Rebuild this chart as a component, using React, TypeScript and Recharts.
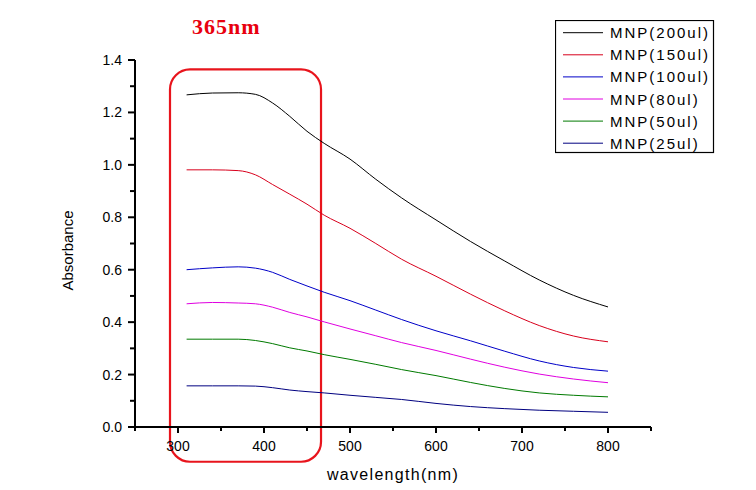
import React from 'react';
import { LineChart, Line, XAxis, YAxis, Legend, ReferenceArea } from 'recharts';

const wavelengths = [310, 340, 370, 390, 410, 430, 450, 470, 500, 530, 560, 600, 640, 680, 720, 760, 800];
const mnp200 = [1.267, 1.274, 1.275, 1.269, 1.236, 1.185, 1.128, 1.082, 1.022, 0.945, 0.874, 0.790, 0.708, 0.633, 0.561, 0.502, 0.458];
const mnp150 = [0.981, 0.981, 0.978, 0.962, 0.925, 0.888, 0.850, 0.808, 0.758, 0.700, 0.640, 0.575, 0.507, 0.443, 0.387, 0.347, 0.325];
const mnp100 = [0.600, 0.607, 0.611, 0.606, 0.590, 0.563, 0.538, 0.514, 0.482, 0.446, 0.410, 0.367, 0.329, 0.289, 0.252, 0.227, 0.213];
const mnp80 = [0.470, 0.475, 0.473, 0.470, 0.457, 0.437, 0.420, 0.401, 0.374, 0.348, 0.322, 0.292, 0.259, 0.228, 0.202, 0.183, 0.169];
const mnp50 = [0.335, 0.335, 0.335, 0.330, 0.318, 0.302, 0.290, 0.276, 0.258, 0.239, 0.219, 0.196, 0.170, 0.147, 0.130, 0.121, 0.115];
const mnp25 = [0.157, 0.157, 0.157, 0.156, 0.150, 0.141, 0.135, 0.130, 0.121, 0.113, 0.105, 0.090, 0.078, 0.070, 0.064, 0.060, 0.056];

const seriesNames = ['MNP(200ul)', 'MNP(150ul)', 'MNP(100ul)', 'MNP(80ul)', 'MNP(50ul)', 'MNP(25ul)'];
const seriesColors = ['#000000', '#d8001c', '#0000c8', '#e000e0', '#007a00', '#000080'];
const seriesValues = [mnp200, mnp150, mnp100, mnp80, mnp50, mnp25];

const xTicks = [250, 300, 350, 400, 450, 500, 550, 600, 650, 700, 750, 800, 850];
const xLabelTicks = [300, 400, 500, 600, 700, 800];
const yTicks = [0, 0.1, 0.2, 0.3, 0.4, 0.5, 0.6, 0.7, 0.8, 0.9, 1.0, 1.1, 1.2, 1.3, 1.4];
const xTitle = 'wavelength(nm)';
const yTitle = 'Absorbance';
const annotationText = '365nm';
const highlightX = [290.7, 466.3];
const highlightY = [-0.1325, 1.3645];

const data = wavelengths.map((w, i) => {
  const row: any = { wavelength: w };
  seriesValues.forEach((vals, k) => {
    row['s' + k] = vals[i];
  });
  return row;
});

const FONT = '"Liberation Sans", Arial, sans-serif';

const XTick = (props: any) => {
  const { x, y, payload } = props;
  const v = payload.value;
  const major = v % 100 === 0;
  const showLabel = xLabelTicks.includes(v);
  return (
    <g>
      <line x1={x} x2={x} y1={y} y2={y + (major ? 6 : 4)} stroke="#000" strokeWidth={2} />
      {showLabel && (
        <text x={x} y={y + 24} textAnchor="middle" fontFamily={FONT} fontSize={14} fill="#000">
          {v}
        </text>
      )}
    </g>
  );
};

const YTick = (props: any) => {
  const { x, y, payload } = props;
  const v = payload.value;
  const major = Math.round(v * 10) % 2 === 0;
  return (
    <g>
      <line x1={x - (major ? 7 : 5)} x2={x} y1={y} y2={y} stroke="#000" strokeWidth={2} />
      {major && (
        <text x={x - 13} y={y + 5} textAnchor="end" fontFamily={FONT} fontSize={14} fill="#000">
          {v.toFixed(1)}
        </text>
      )}
    </g>
  );
};

const LegendBox = (props: any) => {
  const payload = [...(props.payload || [])].sort(
    (a: any, b: any) => seriesNames.indexOf(a.value) - seriesNames.indexOf(b.value)
  );
  return (
    <svg width={160} height={134} style={{ display: 'block' }}>
      <rect x={0.5} y={0.5} width={158} height={132} fill="#fff" stroke="#000" strokeWidth={1.2} />
      {payload.map((e: any, i: number) => {
        const cy = 12.7 + i * 22.1;
        return (
          <g key={i}>
            <line x1={8} x2={48} y1={cy} y2={cy} stroke={e.color} strokeWidth={1} />
            <text x={55} y={cy + 5.5} fontFamily={FONT} fontSize={15} letterSpacing={2} fill="#000">
              {e.value}
            </text>
          </g>
        );
      })}
    </svg>
  );
};

export default function App() {
  return (
    <div style={{ position: 'absolute', left: 0, top: 0, background: '#fff' }}>
      <LineChart width={756} height={490} data={data} margin={{ top: 60, right: 105, bottom: 23, left: 65 }}>
        <XAxis
          dataKey="wavelength"
          type="number"
          domain={[250, 850]}
          ticks={xTicks}
          interval={0}
          allowDataOverflow
          height={40}
          tickSize={0}
          tickMargin={0}
          tickLine={false}
          axisLine={{ stroke: '#000', strokeWidth: 2 }}
          tick={<XTick />}
          label={(p: any) => {
            const vb = p.viewBox;
            return (
              <text
                x={vb.x + vb.width / 2}
                y={vb.y + 53}
                textAnchor="middle"
                fontFamily={FONT}
                fontSize={16}
                letterSpacing={1.3}
                fill="#000"
              >
                {xTitle}
              </text>
            );
          }}
        />
        <YAxis
          type="number"
          domain={[0, 1.4]}
          ticks={yTicks}
          interval={0}
          allowDataOverflow
          width={70}
          tickSize={0}
          tickMargin={0}
          tickLine={false}
          axisLine={{ stroke: '#000', strokeWidth: 2 }}
          tick={<YTick />}
          label={(p: any) => {
            const vb = p.viewBox;
            const cx = vb.x + 8;
            const cy = vb.y + vb.height / 2 + 7;
            return (
              <text
                x={cx}
                y={cy}
                transform={`rotate(-90 ${cx} ${cy})`}
                textAnchor="middle"
                fontFamily={FONT}
                fontSize={15}
                fill="#000"
              >
                {yTitle}
              </text>
            );
          }}
        />
        {seriesNames.map((name, k) => (
          <Line
            key={name}
            dataKey={'s' + k}
            name={name}
            type="monotone"
            stroke={seriesColors[k]}
            strokeWidth={1}
            dot={false}
            activeDot={false}
            isAnimationActive={false}
          />
        ))}
        <ReferenceArea
          x1={highlightX[0]}
          x2={highlightX[1]}
          y1={highlightY[0]}
          y2={highlightY[1]}
          ifOverflow="visible"
          shape={(p: any) => (
            <rect x={p.x} y={p.y} width={p.width} height={p.height} rx={20} ry={20} fill="none" stroke="#e8141c" strokeWidth={2.2} />
          )}
          label={(p: any) => {
            const vb = p.viewBox;
            return (
              <text
                x={vb.x + 22}
                y={vb.y - 35}
                fontFamily='"Liberation Serif", "Times New Roman", serif'
                fontWeight="bold"
                fontSize={22}
                letterSpacing={1}
                fill="#e8000e"
              >
                {annotationText}
              </text>
            );
          }}
        />
        <Legend
          layout="vertical"
          align="center"
          verticalAlign="middle"
          itemSorter={null as any}
          wrapperStyle={{ position: 'absolute', left: 555, top: 20, width: 160, height: 134 }}
          content={<LegendBox />}
        />
      </LineChart>
    </div>
  );
}
